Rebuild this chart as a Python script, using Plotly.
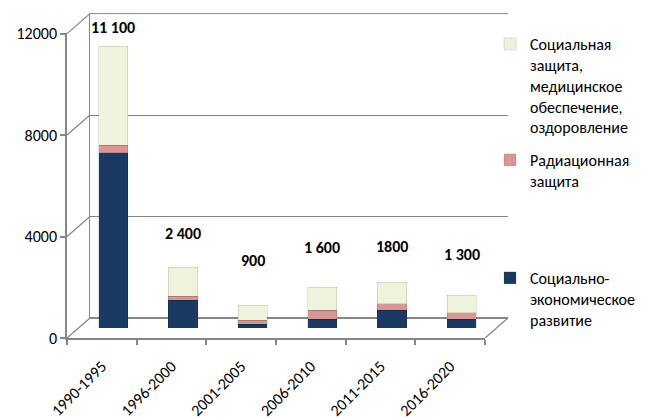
import plotly.graph_objects as go

# ---------------- data ----------------
periods = ["1990-1995", "1996-2000", "2001-2005", "2006-2010", "2011-2015", "2016-2020"]
socio_economic = [6900, 1100, 150, 350, 700, 350]      # Социально-экономическое развитие
radiation = [300, 150, 150, 350, 250, 250]             # Радиационная защита
social = [3900, 1150, 600, 900, 850, 700]              # Социальная защита, медицинское обеспечение, оздоровление
total_labels = ["11 100", "2 400", "900", "1 600", "1800", "1 300"]
y_ticks = [0, 4000, 8000, 12000]

# ---------------- style / geometry ----------------
W, H = 645, 419
FONT = "Carlito, Lato, 'Liberation Sans', sans-serif"
GRAY = "#868686"
C_NAVY = "#1A3A64"
C_PINK = "#D99694"
C_CREAM = "#EEF3DC"
YMAX = 12000
YTOP = YMAX * 1.002
label_shift = [19, 34, 45, 40, 36, 41]

# front plane (px), depth offset of back plane
FX0, FX1, FY0, FY1 = 67, 485, 338, 33
DX, DY = 23, 20


def fx(px):
    return px / W


def fy(py):
    return 1 - py / H


def dom(k):
    """domains for plane at depth fraction k (0 front, 0.5 middle, 1 back)"""
    return ([fx(FX0 + k * DX), fx(FX1 + k * DX)], [fy(FY0 - k * DY), fy(FY1 - k * DY)])


fig = go.Figure()

# invisible anchor traces so front and back axes render
fig.add_trace(go.Scatter(x=periods, y=[0] * len(periods), xaxis="x", yaxis="y", mode="markers",
                         marker=dict(opacity=0), showlegend=False, hoverinfo="skip"))
fig.add_trace(go.Scatter(x=periods, y=[0] * len(periods), xaxis="x2", yaxis="y2", mode="markers",
                         marker=dict(opacity=0), showlegend=False, hoverinfo="skip"))

traces = [
    ("Социально-<br>экономическое<br>развитие", socio_economic, C_NAVY, "legend3"),
    ("Радиационная<br>защита", radiation, C_PINK, "legend2"),
    ("Социальная<br>защита,<br>медицинское<br>обеспечение,<br>оздоровление", social, C_CREAM, "legend"),
]
for name, vals, col, lg in traces:
    fig.add_trace(go.Bar(
        x=periods, y=vals, name=name, xaxis="x3", yaxis="y3",
        marker=dict(color=col, line=dict(color="rgba(0,0,0,0.18)", width=0.6)),
        width=0.42, legend=lg,
    ))

totals = [a + b + c for a, b, c in zip(socio_economic, radiation, social)]
for p, t, lab, sh in zip(periods, totals, total_labels, label_shift):
    fig.add_annotation(x=p, y=t, xref="x3", yref="y3", text=lab, showarrow=False,
                       yshift=sh, yanchor="middle",
                       font=dict(family=FONT, size=16, color="#000000", weight="bold"))

xd0, yd0 = dom(0)      # front plane
xd_back, yd_back = dom(1)   # back wall
xd_mid, yd_mid = dom(0.5)   # bars

common_x = dict(type="category", range=[-0.5, len(periods) - 0.5], fixedrange=True, automargin=False)
common_y = dict(range=[0, YTOP], fixedrange=True, automargin=False)

fig.update_layout(
    width=W, height=H,
    margin=dict(l=0, r=0, t=0, b=0, autoexpand=False),
    paper_bgcolor="white", plot_bgcolor="rgba(0,0,0,0)",
    barmode="stack",
    font=dict(family=FONT, size=15, color="#000000"),
    # front plane: axes, ticks, labels
    xaxis=dict(**common_x, domain=xd0, anchor="y", showline=True, linecolor=GRAY, linewidth=1.5,
               ticks="outside", tickson="boundaries", ticklen=5, tickcolor=GRAY, tickwidth=1.5,
               tickangle=-45, ticklabelstandoff=11, showgrid=False,
               tickfont=dict(family=FONT, size=16, color="#000")),
    yaxis=dict(**common_y, domain=yd0, anchor="x", showline=True, linecolor=GRAY, linewidth=1.5,
               ticks="outside", ticklen=5, tickcolor=GRAY, tickwidth=1.5, tickvals=y_ticks,
               ticktext=[str(v) for v in y_ticks], showgrid=False, zeroline=False,
               tickfont=dict(family=FONT, size=16, color="#000")),
    # back plane: gridlines
    xaxis2=dict(**common_x, domain=xd_back, anchor="y2", showticklabels=False, showgrid=False,
                showline=False, ticks=""),
    yaxis2=dict(**common_y, domain=yd_back, anchor="x2", showticklabels=False, tickvals=y_ticks,
                showgrid=True, gridcolor=GRAY, gridwidth=1, zeroline=True, zerolinecolor=GRAY,
                zerolinewidth=2, showline=True, linecolor=GRAY, linewidth=1, ticks=""),
    # middle plane: bars
    xaxis3=dict(**common_x, domain=xd_mid, anchor="y3", visible=False),
    yaxis3=dict(**common_y, domain=yd_mid, anchor="x3", visible=False),
    legend=dict(x=fx(490), y=fy(27), xanchor="left", yanchor="top", valign="top",
                bgcolor="rgba(0,0,0,0)", font=dict(family=FONT, size=16, color="#000")),
    legend2=dict(x=fx(490), y=fy(143), xanchor="left", yanchor="top", valign="top",
                 bgcolor="rgba(0,0,0,0)", font=dict(family=FONT, size=16, color="#000")),
    legend3=dict(x=fx(490), y=fy(261), xanchor="left", yanchor="top", valign="top",
                 bgcolor="rgba(0,0,0,0)", font=dict(family=FONT, size=16, color="#000")),
)

# 3D frame decorations: side-wall diagonals, back top edge and floor edge
shapes = []
for v in y_ticks:
    py = FY0 - v / YTOP * (FY0 - FY1)
    shapes.append(dict(type="line", xref="paper", yref="paper",
                       x0=fx(FX0), y0=fy(py), x1=fx(FX0 + DX), y1=fy(py - DY),
                       line=dict(color=GRAY, width=1.2), layer="below"))
top_py = FY0 - YMAX / YTOP * (FY0 - FY1) - DY
shapes.append(dict(type="line", xref="paper", yref="paper",
                   x0=fx(FX0 + DX), y0=fy(top_py), x1=fx(FX1 + DX), y1=fy(top_py),
                   line=dict(color=GRAY, width=1), layer="below"))
shapes.append(dict(type="line", xref="paper", yref="paper",
                   x0=fx(FX1), y0=fy(FY0), x1=fx(FX1 + DX), y1=fy(FY0 - DY),
                   line=dict(color=GRAY, width=1.2), layer="below"))
fig.update_layout(shapes=shapes)

fig.write_html("out.html")
